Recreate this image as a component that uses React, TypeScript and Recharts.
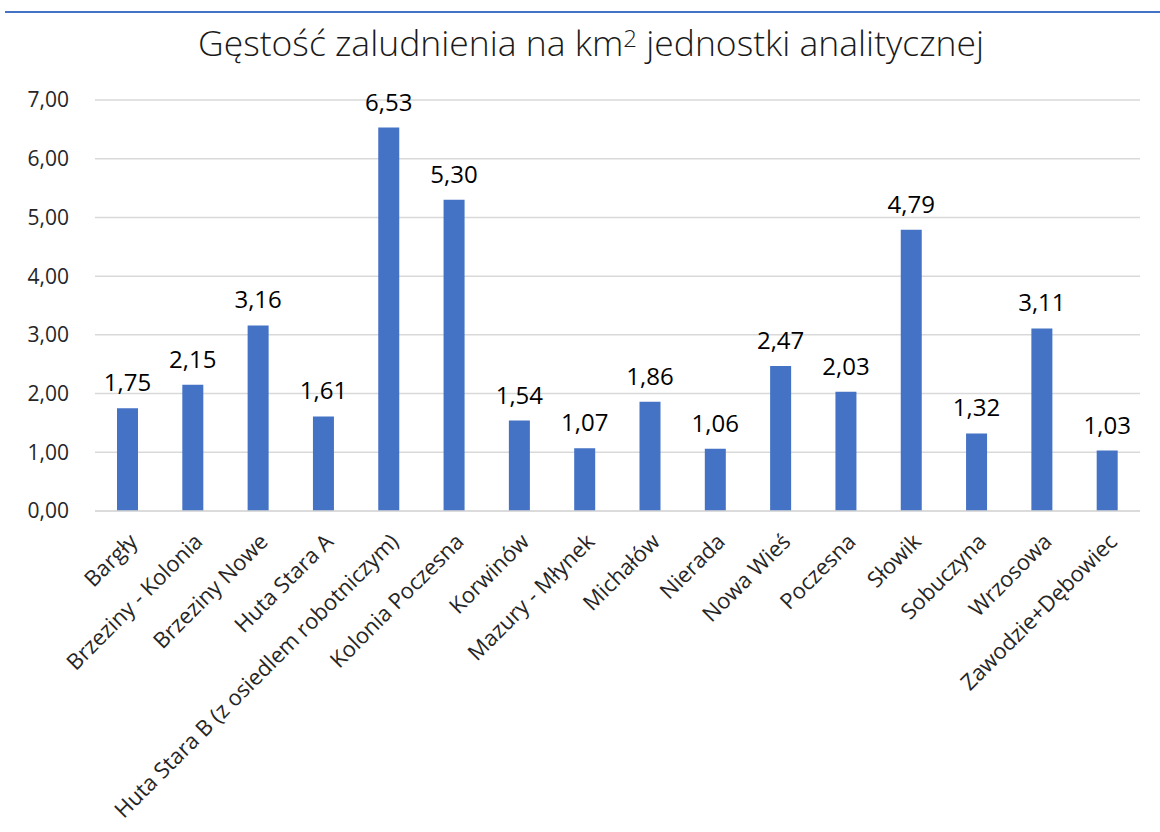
import { BarChart, Bar, XAxis, YAxis, CartesianGrid, LabelList } from 'recharts'

const categories = [
    'Bargły',
    'Brzeziny - Kolonia',
    'Brzeziny Nowe',
    'Huta Stara A',
    'Huta Stara B (z osiedlem robotniczym)',
    'Kolonia Poczesna',
    'Korwinów',
    'Mazury - Młynek',
    'Michałów',
    'Nierada',
    'Nowa Wieś',
    'Poczesna',
    'Słowik',
    'Sobuczyna',
    'Wrzosowa',
    'Zawodzie+Dębowiec',
]

const density = [1.75, 2.15, 3.16, 1.61, 6.53, 5.3, 1.54, 1.07, 1.86, 1.06, 2.47, 2.03, 4.79, 1.32, 3.11, 1.03]

const yTicks = [0, 1, 2, 3, 4, 5, 6, 7]

const data = categories.map((name, i) => ({ name, value: density[i] }))

const fmt = (v: number) => v.toFixed(2).replace('.', ',')
const font = '"Open Sans", "Noto Sans", sans-serif'

export default function App() {
    return (
        <div style={{ position: 'fixed', left: 0, top: 0, width: 1160, height: 832, background: '#fff', fontFamily: font }}>
            <div style={{ position: 'absolute', left: 5, right: 0, top: 11, height: 2, background: '#4472C4' }} />
            <div
                style={{
                    position: 'absolute',
                    left: 0,
                    width: 1182,
                    top: 18,
                    textAlign: 'center',
                    fontSize: 35.5,
                    fontWeight: 300,
                    color: '#1a1a1a',
                }}
            >
                Gęstość zaludnienia na km<sup style={{ fontSize: 24, verticalAlign: 'top', position: 'relative', top: 3 }}>2</sup> jednostki analitycznej
            </div>
            <BarChart
                width={1160}
                height={832}
                data={data}
                margin={{ top: 100, right: 20, left: 0, bottom: 21 }}
                barSize={21}
            >
                <CartesianGrid vertical={false} stroke="#d9d9d9" strokeWidth={1.5} />
                <YAxis
                    domain={[0, 7]}
                    ticks={yTicks}
                    tickFormatter={fmt}
                    width={95}
                    axisLine={false}
                    tickLine={false}
                    tickMargin={20}
                    tick={{ fontSize: 21, fill: '#262626', fontFamily: font }}
                    interval={0}
                />
                <XAxis
                    dataKey="name"
                    height={300}
                    interval={0}
                    angle={-45}
                    textAnchor="end"
                    tickMargin={15}
                    axisLine={{ stroke: '#d9d9d9', strokeWidth: 1.5 }}
                    tickLine={false}
                    tick={{ fontSize: 22, fill: '#262626', fontFamily: font }}
                />
                <Bar dataKey="value" fill="#4472C4" isAnimationActive={false}>
                    <LabelList
                        dataKey="value"
                        position="top"
                        offset={17}
                        formatter={(v: number) => fmt(v)}
                        style={{ fontSize: 24, fill: '#000', fontFamily: font }}
                    />
                </Bar>
            </BarChart>
        </div>
    )
}
